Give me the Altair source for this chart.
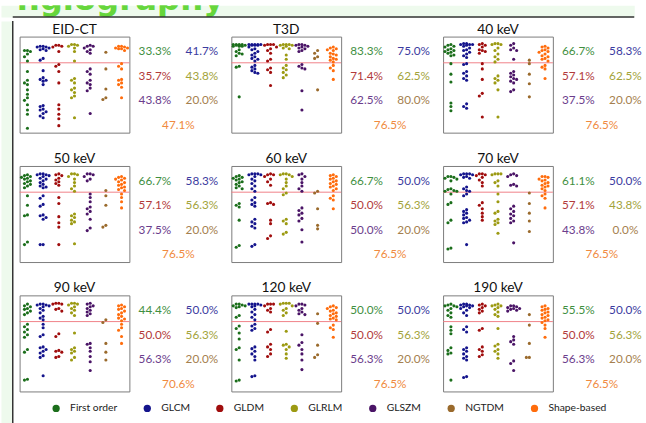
import altair as alt
import pandas as pd

FONT = "Lato"
GREEN_BG = "#eefaed"

categories = ["First order", "GLCM", "GLDM", "GLRLM", "GLSZM", "NGTDM", "Shape-based"]
dot_colors = ["#1b6e1b", "#14148c", "#a00d0d", "#9c9a12", "#4a1466", "#9a6a2c", "#ff6c0c"]
text_colors = ["#3f8f3f", "#3b3ba0", "#b23a3a", "#a3a33a", "#6b3d8c", "#a5804e", "#f08a40"]

panels = ["EID-CT", "T3D", "40 keV", "50 keV", "60 keV", "70 keV", "90 keV", "120 keV", "190 keV"]
threshold = 75

# feature scores (x100) per category, one list per feature class
eid_ct = [
    [89, 89, 88, 85, 82, 77, 65, 55, 52, 50, 44, 39, 35, 32, 27, 21, 16, 0],
    [94, 94, 93, 93, 92, 91, 90, 89, 80, 78, 66, 58, 56, 55, 54, 50, 26, 25, 22, 21, 19, 17, 14, 12],
    [95, 95, 94, 93, 88, 73, 71, 65, 52, 27, 22, 16, 11, 3],
    [96, 96, 95, 94, 92, 88, 77, 57, 55, 52, 46, 44, 41, 37, 35, 12],
    [95, 94, 94, 92, 90, 88, 86, 68, 65, 62, 55, 52, 50, 46, 43, 17],
    [87, 68, 45, 35, 33],
    [94, 94, 93, 92, 92, 91, 91, 89, 74, 71, 68, 56, 55, 52, 50, 47, 35],
]
t3d = [
    [96, 96, 96, 96, 95, 95, 95, 94, 94, 94, 90, 88, 86, 85, 83, 71, 70, 36],
    [96, 96, 96, 96, 96, 95, 95, 95, 93, 91, 90, 88, 86, 84, 82, 80, 79, 77, 72, 70, 68, 66, 64, 63],
    [96, 96, 96, 95, 93, 91, 89, 86, 79, 77, 69, 67, 64, 49],
    [96, 96, 96, 95, 95, 94, 92, 91, 84, 79, 72, 69, 67, 64, 61, 58],
    [96, 96, 95, 95, 94, 93, 92, 91, 89, 88, 73, 71, 69, 68, 43, 21],
    [89, 86, 82, 80, 44],
    [93, 92, 91, 90, 89, 86, 85, 84, 82, 80, 79, 78, 76, 72, 69, 66, 56],
]
kev40 = [
    [96, 95, 94, 93, 91, 90, 89, 88, 87, 86, 84, 83, 74, 62, 53, 29, 25, 20],
    [97, 97, 96, 96, 96, 95, 94, 92, 90, 89, 87, 85, 83, 81, 74, 73, 65, 63, 60, 57, 55, 28, 25, 23],
    [97, 96, 95, 93, 90, 89, 88, 86, 74, 68, 56, 40, 37, 13],
    [97, 97, 96, 96, 92, 89, 85, 82, 79, 76, 60, 57, 55, 52, 44, 13],
    [97, 95, 92, 90, 89, 79, 65, 63, 61, 59, 57, 56, 54, 52, 44, 42],
    [78, 74, 62, 51, 36],
    [94, 93, 92, 90, 89, 88, 87, 85, 83, 82, 80, 79, 77, 72, 70, 68, 57],
]
kev50 = [
    [95, 94, 93, 92, 91, 90, 88, 87, 85, 84, 82, 80, 71, 60, 49, 48, 18, 15],
    [96, 96, 95, 95, 94, 93, 91, 90, 88, 86, 84, 82, 81, 80, 71, 68, 61, 59, 49, 48, 46, 44, 15, 15],
    [96, 95, 94, 91, 89, 87, 85, 83, 69, 62, 47, 40, 35, 15],
    [96, 96, 95, 93, 90, 86, 82, 79, 76, 50, 48, 46, 43, 41, 39, 16],
    [96, 96, 95, 93, 90, 88, 73, 69, 64, 58, 56, 53, 50, 44, 34, 31],
    [77, 71, 60, 37, 35],
    [93, 92, 91, 90, 89, 87, 86, 84, 83, 81, 80, 78, 77, 73, 69, 64, 57],
]
kev60 = [
    [94, 93, 92, 91, 90, 89, 87, 86, 84, 82, 80, 79, 62, 60, 58, 43, 14, 12],
    [96, 96, 96, 95, 95, 93, 90, 88, 85, 82, 79, 76, 69, 66, 63, 61, 59, 44, 41, 39, 36, 34, 15, 13],
    [96, 95, 95, 93, 90, 87, 83, 63, 62, 61, 43, 39, 25, 22],
    [96, 96, 95, 95, 93, 90, 86, 82, 79, 74, 72, 44, 42, 39, 29, 27],
    [96, 95, 93, 90, 86, 82, 79, 76, 57, 54, 51, 49, 45, 42, 32, 18],
    [76, 74, 56, 37, 33],
    [95, 94, 93, 91, 90, 88, 87, 85, 84, 82, 81, 79, 77, 71, 68, 66, 56],
]
kev70 = [
    [93, 93, 92, 91, 90, 88, 79, 78, 77, 76, 76, 73, 63, 61, 43, 40, 11, 10],
    [96, 96, 96, 95, 95, 93, 92, 91, 81, 79, 77, 76, 73, 71, 55, 53, 51, 49, 46, 45, 43, 41, 40, 15],
    [96, 96, 95, 94, 92, 89, 86, 82, 63, 60, 56, 51, 47, 43],
    [96, 96, 96, 95, 88, 86, 82, 73, 64, 53, 51, 44, 42, 40, 38, 28],
    [96, 95, 94, 93, 84, 83, 82, 59, 56, 53, 50, 48, 45, 42, 40, 17],
    [74, 62, 51, 42, 30],
    [93, 93, 92, 90, 89, 88, 86, 85, 83, 82, 81, 79, 77, 73, 71, 68, 57],
]
kev90 = [
    [95, 93, 92, 90, 89, 87, 85, 83, 72, 69, 66, 63, 60, 57, 43, 40, 9, 8],
    [95, 95, 94, 94, 93, 92, 90, 88, 85, 81, 79, 77, 72, 68, 60, 58, 46, 45, 43, 41, 39, 36, 34, 13],
    [96, 96, 95, 95, 90, 89, 87, 61, 58, 42, 41, 40, 35, 34],
    [96, 96, 95, 94, 92, 90, 88, 85, 82, 62, 45, 43, 41, 39, 34, 31],
    [96, 95, 93, 92, 90, 88, 86, 84, 82, 50, 49, 45, 41, 35, 29, 19],
    [77, 74, 50, 40, 31],
    [94, 93, 92, 90, 89, 87, 85, 83, 81, 79, 78, 76, 72, 68, 65, 58, 50],
]
kev120 = [
    [95, 95, 94, 93, 93, 92, 91, 82, 80, 70, 67, 62, 55, 45, 43, 31, 8, 7],
    [95, 95, 95, 95, 94, 93, 92, 89, 86, 83, 80, 77, 72, 70, 67, 65, 46, 44, 41, 38, 35, 31, 13, 12],
    [95, 95, 95, 93, 90, 88, 86, 66, 63, 49, 46, 43, 38, 35],
    [96, 96, 96, 95, 93, 90, 88, 85, 82, 64, 49, 48, 46, 43, 38, 33],
    [95, 95, 94, 93, 90, 88, 86, 84, 83, 60, 51, 48, 43, 38, 31, 20],
    [84, 73, 48, 37, 34],
    [93, 92, 91, 90, 88, 87, 85, 84, 82, 81, 79, 78, 77, 71, 68, 66, 57],
]
kev190 = [
    [95, 94, 93, 93, 92, 90, 88, 85, 82, 80, 69, 65, 61, 45, 42, 39, 38, 8],
    [95, 95, 94, 94, 93, 93, 92, 91, 90, 88, 85, 82, 69, 66, 63, 45, 43, 41, 38, 35, 33, 31, 12, 11],
    [95, 94, 93, 91, 89, 87, 85, 67, 65, 46, 43, 41, 37, 35],
    [95, 94, 93, 93, 91, 89, 86, 83, 81, 67, 49, 47, 43, 41, 38, 33],
    [93, 93, 92, 91, 90, 90, 89, 88, 87, 58, 54, 52, 49, 30, 27, 19],
    [83, 71, 50, 34, 34],
    [93, 92, 90, 89, 88, 86, 85, 83, 82, 80, 79, 77, 76, 74, 71, 67, 57],
]
scores = dict(zip(panels, [eid_ct, t3d, kev40, kev50, kev60, kev70, kev90, kev120, kev190]))

# share of features above the threshold (%), in category order
shares = {
    "EID-CT": [33.3, 41.7, 35.7, 43.8, 43.8, 20.0, 47.1],
    "T3D": [83.3, 75.0, 71.4, 62.5, 62.5, 80.0, 76.5],
    "40 keV": [66.7, 58.3, 57.1, 62.5, 37.5, 20.0, 76.5],
    "50 keV": [66.7, 58.3, 57.1, 56.3, 37.5, 20.0, 76.5],
    "60 keV": [66.7, 50.0, 50.0, 56.3, 50.0, 20.0, 76.5],
    "70 keV": [61.1, 50.0, 57.1, 43.8, 43.8, 0.0, 76.5],
    "90 keV": [44.4, 50.0, 50.0, 56.3, 56.3, 20.0, 70.6],
    "120 keV": [50.0, 50.0, 50.0, 56.3, 56.3, 20.0, 76.5],
    "190 keV": [55.5, 50.0, 50.0, 56.3, 56.3, 20.0, 76.5],
}


def spread(values, min_gap=3.4):
    """Small beeswarm: side-by-side slots for dots that would overlap."""
    slots = [0, -1, 1, -2, 2]
    placed, out = [], []
    for v in values:
        best, best_gap = 0, -1.0
        for s in slots:
            near = [abs(v - pv) for pv, ps in placed if ps == s]
            gap = min(near) if near else 99.0
            if gap >= min_gap:
                best = s
                break
            if gap > best_gap:
                best, best_gap = s, gap
        placed.append((v, best))
        out.append(best)
    return out


rows = []
for p in panels:
    for ci, cat in enumerate(categories):
        vals = scores[p][ci]
        for v, s in zip(vals, spread(vals)):
            rows.append({"panel": p, "category": cat, "score": v, "xpos": ci + 0.19 * s})
points = pd.DataFrame(rows)

label_rows = []
for p in panels:
    for i, v in enumerate(shares[p]):
        label_rows.append({
            "panel": p,
            "label": f"{v:.1f}%",
            "row": i // 2,
            "col": 0.5 if i == 6 else i % 2,
            "tint": text_colors[i],
        })
labels = pd.DataFrame(label_rows)
thr = pd.DataFrame({"value": [threshold]})
one = pd.DataFrame({"k": [0]})

x_scale = alt.Scale(domain=[-0.5, 6.5], nice=False, zero=False)
y_scale = alt.Scale(domain=[-5, 105], nice=False, zero=False)
color_scale = alt.Scale(domain=categories, range=dot_colors)
legend = alt.Legend(
    orient="none", legendX=51, legendY=406, direction="horizontal",
    symbolType="circle", symbolSize=55, symbolStrokeWidth=0,
    labelFont=FONT, labelFontSize=10.5, labelColor="#222",
    labelOffset=9, columnPadding=25,
)
no_box = alt.ViewBackground(stroke="transparent")


def panel_title(name, color):
    return alt.TitleParams(name, font=FONT, fontSize=14, fontWeight="normal",
                           color=color, offset=0, anchor="middle")


def cell(name):
    rule = alt.Chart(thr).mark_rule(color="#f07f86", strokeWidth=1).encode(
        y=alt.Y("value:Q", scale=y_scale, axis=None)
    )
    dots = alt.Chart(points[points["panel"] == name]).mark_circle(size=10, opacity=1).encode(
        x=alt.X("xpos:Q", scale=x_scale, axis=None),
        y=alt.Y("score:Q", scale=y_scale, axis=None),
        color=alt.Color("category:N", scale=color_scale, legend=legend, title=None),
    )
    plot = alt.layer(rule, dots).properties(width=112, height=98, title=panel_title(name, "#111111"))
    # the label block carries an invisible copy of the title so both views line up
    text = alt.Chart(labels[labels["panel"] == name]).mark_text(
        font=FONT, fontSize=12, align="center", baseline="middle"
    ).encode(
        x=alt.X("col:Q", scale=alt.Scale(domain=[-0.5, 1.4167], nice=False, zero=False), axis=None),
        y=alt.Y("row:Q", scale=alt.Scale(domain=[-0.6, 3.32], nice=False, zero=False, reverse=True), axis=None),
        text="label:N",
        fill=alt.Fill("tint:N", scale=None),
    ).properties(width=92, height=98, view=no_box, title=panel_title(name, "transparent"))
    return alt.hconcat(plot, text, spacing=0)


grid = alt.vconcat(
    *[alt.hconcat(*[cell(n) for n in panels[r * 3:(r + 1) * 3]], spacing=8) for r in range(3)],
    spacing=18,
)

spacer = alt.Chart(one).mark_rule(opacity=0).encode(
    x=alt.value(0), y=alt.value(0), y2=alt.value(1)
).properties(width=1, height=1, view=no_box)

header = alt.layer(
    alt.Chart(one).mark_text(
        text="ngiography", font="DejaVu Sans", fontSize=33, fontWeight="bold",
        color="#66d63c", align="left", baseline="alphabetic", clip=True,
    ).encode(x=alt.value(16), y=alt.value(5)),
    alt.Chart(one).mark_rule(color="#333333", strokeWidth=1.5).encode(
        x=alt.value(12), x2=alt.value(646), y=alt.value(12)
    ),
).properties(width=646, height=12, view=alt.ViewBackground(fill=GREEN_BG, stroke="transparent"))

strip = alt.Chart(one).mark_rule(color="#333333", strokeWidth=1.5).encode(
    x=alt.value(12), y=alt.value(0), y2=alt.value(411)
).properties(width=12, height=411, view=alt.ViewBackground(fill=GREEN_BG, stroke="transparent"))

body = alt.hconcat(strip, alt.vconcat(spacer, grid, spacing=-1), spacing=4)

chart = alt.vconcat(header, body, spacing=0).properties(
    padding=0, background="white"
).configure_view(stroke="#7a7a7a", strokeWidth=1)

chart.save("out.html", embed_options={"renderer": "svg", "actions": False})
